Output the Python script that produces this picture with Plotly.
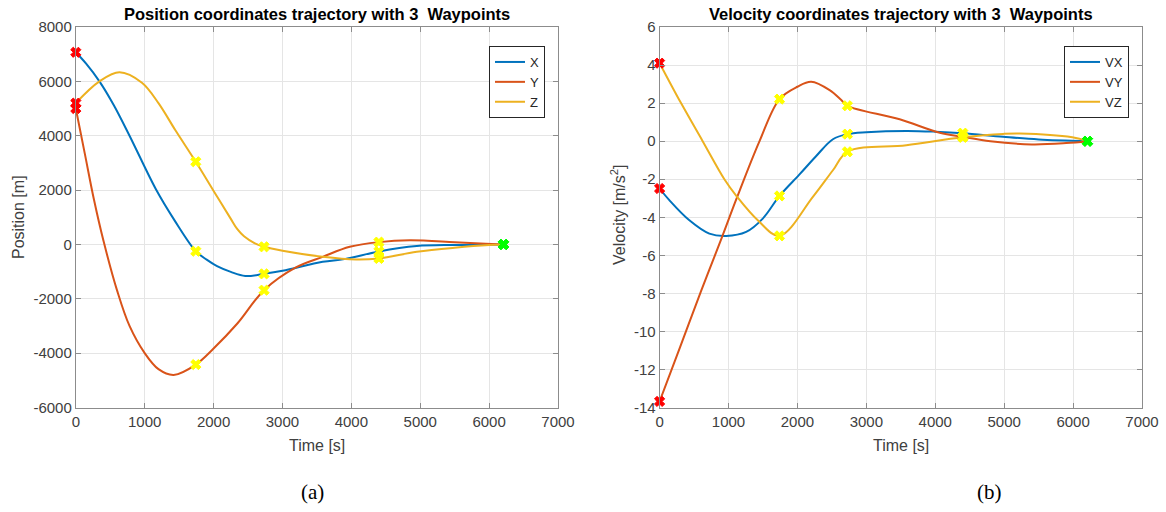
import plotly.graph_objects as go

# ---------------- Position data ----------------
X_t = [0, 150, 343, 550, 780, 1169, 1431, 1742, 1900, 2050, 2250, 2460, 2733, 3001, 3584, 3900, 4400, 4950, 5500, 6209]
X_v = [7070, 6650, 6000, 5130, 4000, 2000, 895, -250, -560, -800, -1010, -1160, -1083, -972, -640, -541, -258, -61, -20, 0]

Y_t = [0, 130, 265, 400, 600, 780, 1000, 1200, 1421, 1742, 2000, 2345, 2733, 3195, 3584, 3977, 4400, 4850, 5500, 5950, 6209]
Y_v = [5000, 3350, 1632, 150, -1700, -3000, -4000, -4590, -4800, -4420, -3830, -2910, -1683, -847, -456, -88, 85, 150, 80, 25, 0]

Z_t = [0, 343, 634, 960, 1200, 1446, 1742, 2005, 2248, 2345, 2442, 2600, 2733, 3001, 3584, 4070, 4400, 4950, 5500, 6000, 6209]
Z_v = [5200, 6000, 6335, 5950, 5200, 4200, 3042, 1950, 950, 560, 300, 40, -88, -235, -456, -554, -516, -272, -120, -20, 0]

# waypoints (position)
P_start_t = 0
P_start = [7070, 5000, 5200]
P_wp_t = [1742, 2733, 4400]
X_wp = [-250, -1083, -258]
Y_wp = [-4420, -1683, 85]
Z_wp = [3042, -88, -516]
P_end_t = 6209
P_end = [0, 0, 0]

# ---------------- Velocity data ----------------
VX_t = [0, 141, 432, 722, 965, 1256, 1497, 1740, 2030, 2273, 2515, 2725, 3000, 3581, 4000, 4400, 4985, 5500, 6209]
VX_v = [-2.49, -3.1, -4.16, -4.86, -4.98, -4.77, -4.07, -2.88, -1.75, -0.78, 0.1, 0.37, 0.47, 0.54, 0.5, 0.42, 0.23, 0.09, 0]

VY_t = [0, 300, 600, 900, 1119, 1450, 1740, 2000, 2200, 2467, 2636, 2725, 3484, 4065, 4400, 4800, 5400, 5900, 6209]
VY_v = [-13.68, -10.8, -7.9, -5.1, -3.0, 0, 2.21, 2.86, 3.12, 2.68, 2.16, 1.86, 1.15, 0.44, 0.23, 0.0, -0.17, -0.1, 0]

VZ_t = [0, 311, 625, 940, 1119, 1425, 1740, 2224, 2515, 2725, 3581, 4400, 4985, 5229, 5988, 6209]
VZ_v = [4.1, 2.0, 0, -2.0, -2.9, -4.16, -4.98, -2.93, -1.53, -0.56, -0.21, 0.2, 0.38, 0.4, 0.2, 0]

V_start_t = 0
V_start = [-2.49, -13.68, 4.1]
V_wp_t = [1740, 2725, 4400]
VX_wp = [-2.88, 0.37, 0.42]
VY_wp = [2.21, 1.86, 0.23]
VZ_wp = [-4.98, -0.56, 0.2]
V_end_t = 6209
V_end = [0, 0, 0]

x_ticks = [0, 1000, 2000, 3000, 4000, 5000, 6000, 7000]
x_labels = ["0", "1000", "2000", "3000", "4000", "5000", "6000", "7000"]
pos_ticks = [-6000, -4000, -2000, 0, 2000, 4000, 6000, 8000]
pos_labels = ["-6000", "-4000", "-2000", "0", "2000", "4000", "6000", "8000"]
vel_ticks = [-14, -12, -10, -8, -6, -4, -2, 0, 2, 4, 6]
vel_labels = ["-14", "-12", "-10", "-8", "-6", "-4", "-2", "0", "2", "4", "6"]

COLORS = ["#0072BD", "#D95319", "#EDB120"]
FONT = "Liberation Sans, Arial, sans-serif"
TXT = "#404040"

fig = go.Figure()


def add_lines(ts, vs, names, xa, ya, legend):
    for t, v, n, c in zip(ts, vs, names, COLORS):
        fig.add_trace(go.Scatter(
            x=t, y=v, name=n, mode="lines",
            line=dict(color=c, width=2, shape="spline", smoothing=1.0),
            xaxis=xa, yaxis=ya, legend=legend))


def add_markers(x, y, color, xa, ya):
    fig.add_trace(go.Scatter(
        x=x, y=y, mode="markers", showlegend=False, hoverinfo="skip", cliponaxis=False,
        marker=dict(symbol="x", size=9, color=color, line=dict(width=1, color=color)),
        xaxis=xa, yaxis=ya))


add_lines([X_t, Y_t, Z_t], [X_v, Y_v, Z_v], ["X", "Y", "Z"], "x", "y", "legend")
add_lines([VX_t, VY_t, VZ_t], [VX_v, VY_v, VZ_v], ["VX", "VY", "VZ"], "x2", "y2", "legend2")

add_markers([P_start_t] * 3, P_start, "#FF0000", "x", "y")
add_markers(P_wp_t * 3, X_wp + Y_wp + Z_wp, "#FFFF00", "x", "y")
add_markers([P_end_t] * 3, P_end, "#00FF00", "x", "y")
add_markers([V_start_t] * 3, V_start, "#FF0000", "x2", "y2")
add_markers(V_wp_t * 3, VX_wp + VY_wp + VZ_wp, "#FFFF00", "x2", "y2")
add_markers([V_end_t] * 3, V_end, "#00FF00", "x2", "y2")

W, H = 1166, 512
ydom = [1 - 407.5 / H, 1 - 27 / H]

axis_common = dict(
    showgrid=True, gridcolor="#E5E5E5", gridwidth=1,
    showline=True, linecolor="#8C8C8C", linewidth=1, mirror="ticks",
    ticks="inside", ticklen=5, tickcolor="#8C8C8C",
    tickfont=dict(family=FONT, size=15, color=TXT),
    zeroline=False, automargin=False,
)

legend_common = dict(xanchor="right", yanchor="top",
                     bgcolor="white", bordercolor="#262626", borderwidth=1,
                     font=dict(family=FONT, size=13, color="#262626"),
                     itemwidth=30, tracegroupgap=0)


def ann(text, x, y, size, family=FONT, color=TXT, angle=0):
    return dict(text=text, x=x / W, y=1 - y / H, xref="paper", yref="paper", showarrow=False,
                xanchor="center", yanchor="middle", textangle=angle,
                font=dict(family=family, size=size, color=color))


fig.update_layout(
    width=W, height=H,
    margin=dict(l=0, r=0, t=0, b=0, autoexpand=False),
    paper_bgcolor="white", plot_bgcolor="white",
    font=dict(family=FONT, color=TXT),
    xaxis=dict(domain=[75.8 / W, 558 / W], range=[0, 7000], tickvals=x_ticks, ticktext=x_labels,
               anchor="y", **axis_common),
    yaxis=dict(domain=ydom, range=[-6000, 8000], tickvals=pos_ticks, ticktext=pos_labels,
               anchor="x", **axis_common),
    xaxis2=dict(domain=[659.6 / W, 1142 / W], range=[0, 7000], tickvals=x_ticks, ticktext=x_labels,
                anchor="y2", **axis_common),
    yaxis2=dict(domain=ydom, range=[-14, 6], tickvals=vel_ticks, ticktext=vel_labels,
                anchor="x2", **axis_common),
    legend=dict(x=545 / W, y=1 - 46 / H, **legend_common),
    legend2=dict(x=1129 / W, y=1 - 46 / H, **legend_common),
    annotations=[
        ann("<b>Position coordinates trajectory with 3  Waypoints</b>", 317, 14, 16.5, color="#000000"),
        ann("<b>Velocity coordinates trajectory with 3  Waypoints</b>", 901, 14, 16.5, color="#000000"),
        ann("Time [s]", 317, 445, 16),
        ann("Time [s]", 901, 445, 16),
        ann("Position [m]", 18, 217, 16, angle=-90),
        ann("Velocity [m/s<sup>2</sup>]", 618, 215, 16, angle=-90),
        ann("(a)", 312, 492, 21, family="Liberation Serif, Times New Roman, serif", color="#000000"),
        ann("(b)", 989, 492, 21, family="Liberation Serif, Times New Roman, serif", color="#000000"),
    ],
)

fig.write_html("out.html", config={"displayModeBar": False},
               post_script="document.body.style.margin='0px';document.body.style.padding='0px';")
